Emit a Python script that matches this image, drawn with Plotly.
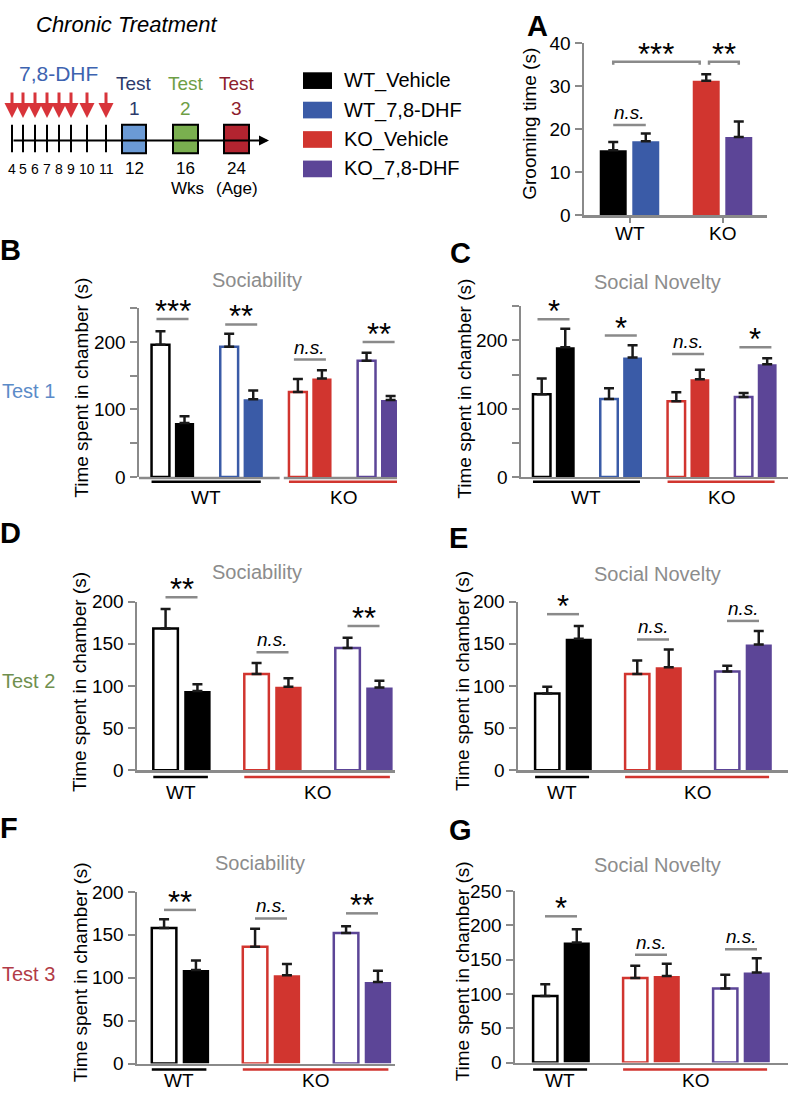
import plotly.graph_objects as go

W, H = 789, 1103
FONT = "Liberation Sans, Arial, Helvetica, sans-serif"

# ---------------- data ----------------
legend_labels = ["WT_Vehicle", "WT_7,8-DHF", "KO_Vehicle", "KO_7,8-DHF"]

groom_genotypes = ["WT", "KO"]
groom_mean = [15.1, 17.2, 31.3, 18.2]
groom_err = [1.9, 1.8, 1.5, 3.6]
groom_ns_y = 21.0
groom_sig = ["***", "**"]
groom_sig_y = 35.7

# Test 1 (groups: WT_Vehicle, WT_7,8-DHF, KO_Vehicle, KO_7,8-DHF)
B_open = [196, 193, 126, 172]
B_open_err = [20, 19, 19, 12]
B_fill = [80, 115, 146, 114]
B_fill_err = [10, 13, 12, 6]
B_sig = ["***", "**", "n.s.", "**"]
B_sig_y = [234, 226, 174, 200]

C_open = [121, 114, 111, 117]
C_open_err = [23, 16, 13, 6]
C_fill = [190, 175, 143, 165]
C_fill_err = [27, 18, 14, 9]
C_sig = ["*", "*", "n.s.", "*"]
C_sig_y = [231, 207, 180, 190]

# Tests 2 and 3 (groups: WT_Vehicle, KO_Vehicle, KO_7,8-DHF)
D_open = [168, 114, 145]
D_open_err = [23, 13, 12]
D_fill = [94, 99, 98]
D_fill_err = [8, 10, 8]
D_sig = ["**", "n.s.", "**"]
D_sig_y = [205, 140, 171]

E_open = [91, 114, 117]
E_open_err = [8, 16, 7]
E_fill = [156, 122, 149]
E_fill_err = [15, 21, 16]
E_sig = ["*", "n.s.", "n.s."]
E_sig_y = [185, 155, 177]

F_open = [158, 136, 152]
F_open_err = [10, 21, 8]
F_fill = [109, 103, 95]
F_fill_err = [11, 13, 13]
F_sig = ["**", "n.s.", "**"]
F_sig_y = [179, 169, 175]

G_open = [97, 123, 108]
G_open_err = [17, 18, 20]
G_fill = [175, 126, 131]
G_fill_err = [19, 18, 21]
G_sig = ["*", "n.s.", "n.s."]
G_sig_y = [213, 157, 165]

treat_weeks = ["4", "5", "6", "7", "8", "9", "10", "11"]
test_weeks = ["12", "16", "24"]
test_numbers = ["1", "2", "3"]

# ---------------- styles ----------------
COL = {"WT_Vehicle": "#000000", "WT_7,8-DHF": "#3a5ba7",
       "KO_Vehicle": "#d1352f", "KO_7,8-DHF": "#5c4597"}
GRAY = "#8a8a8a"
OFF = 0.175
STAR_SIZE = 31

def P(x, y):
    return x / W, 1 - y / H

def xrange_of(left, right, c0, sp):
    return [(left - c0) / sp, (right - c0) / sp]

PANELS = {
    "A": dict(idx=1, box=(584, 767, 34, 209), c0=629.5, sp=93, w=0.29, yr=[0, 40],
              tv=[0, 10, 20, 30, 40], tt=["0", "10", "20", "30", "40"]),
    "B": dict(idx=2, box=(139, 397, 304, 476), c0=172.5, sp=68.7, w=0.28, yr=[0, 250],
              tv=[0, 50, 100, 150, 200, 250], tt=["0", "", "100", "", "200", ""]),
    "C": dict(idx=3, box=(521, 788, 302, 476), c0=553.5, sp=67.3, w=0.28, yr=[0, 250],
              tv=[0, 50, 100, 150, 200, 250], tt=["0", "", "100", "", "200", ""]),
    "D": dict(idx=4, box=(137, 395, 603, 775), c0=181.5, sp=91, w=0.29, yr=[0, 200],
              tv=[0, 50, 100, 150, 200], tt=["0", "50", "100", "150", "200"]),
    "E": dict(idx=5, box=(518, 788, 603, 775), c0=563, sp=90, w=0.29, yr=[0, 200],
              tv=[0, 50, 100, 150, 200], tt=["0", "50", "100", "150", "200"]),
    "F": dict(idx=6, box=(137, 395, 899, 1074), c0=180, sp=91, w=0.29, yr=[0, 200],
              tv=[0, 50, 100, 150, 200], tt=["0", "50", "100", "150", "200"]),
    "G": dict(idx=7, box=(515, 788, 898, 1073), c0=561, sp=90, w=0.29, yr=[0, 250],
              tv=[0, 50, 100, 150, 200, 250], tt=["0", "50", "100", "150", "200", "250"]),
}

fig = go.Figure()
shapes = []
annots = []

def errs(vals):
    return dict(type="data", array=vals, arrayminus=[0] * len(vals), symmetric=False,
                color="#1a1a1a", thickness=2.5, width=5)

def ax_names(idx):
    s = "" if idx == 1 else str(idx)
    return "x" + s, "y" + s, "xaxis" + s, "yaxis" + s

def yval_to_paper(p, v):
    l, r, t, b = p["box"]
    d0, d1 = 1 - b / H, 1 - t / H
    r0, r1 = p["yr"]
    return d0 + (v - r0) / (r1 - r0) * (d1 - d0)

layout_axes = {}
for key, p in PANELS.items():
    xa, ya, xk, yk = ax_names(p["idx"])
    l, r, t, b = p["box"]
    layout_axes[xk] = dict(domain=[l / W, r / W], range=xrange_of(l, r, p["c0"], p["sp"]),
                           showline=True, linecolor=GRAY, linewidth=2.5, showgrid=False,
                           zeroline=False, showticklabels=False, ticks="", anchor=ya,
                           fixedrange=True)
    layout_axes[yk] = dict(domain=[1 - b / H, 1 - t / H], range=p["yr"], tickvals=p["tv"],
                           ticktext=p["tt"], ticks="outside", ticklen=7, tickwidth=2,
                           tickcolor=GRAY, showline=True, linecolor=GRAY, linewidth=2.5,
                           showgrid=False, zeroline=False, anchor=xa, fixedrange=True,
                           tickfont=dict(size=19, color="black", family=FONT))

def sig_mark(xa, p, xc, yv, s, x0, x1, drop=0.0):
    yp = yval_to_paper(p, yv)
    if drop:
        yd = yval_to_paper(p, yv - drop)
        shapes.append(dict(type="path", xref=xa, yref="paper",
                           path=f"M {x0},{yd} L {x0},{yp} L {x1},{yp} L {x1},{yd}",
                           line=dict(color=GRAY, width=2.5)))
    else:
        shapes.append(dict(type="line", xref=xa, yref="paper", x0=x0, x1=x1, y0=yp, y1=yp,
                           line=dict(color=GRAY, width=2.5)))
    if s == "n.s.":
        annots.append(dict(xref=xa, yref="paper", x=xc, y=yp, text="<i>n.s.</i>", showarrow=False,
                           yanchor="bottom", font=dict(size=19, color="black", family=FONT)))
    else:
        annots.append(dict(xref=xa, yref="paper", x=xc, y=yp, text=s, showarrow=False,
                           yanchor="bottom", yshift=-12,
                           font=dict(size=STAR_SIZE, color="black", family=FONT)))

# ---------------- panel A ----------------
pA = PANELS["A"]
xsA = [g + s * OFF for g in range(len(groom_genotypes)) for s in (-1, 1)]
fig.add_trace(go.Bar(x=xsA, y=groom_mean, width=pA["w"],
                     marker=dict(color=[COL[k] for k in legend_labels], line=dict(width=0)),
                     error_y=errs(groom_err), xaxis="x", yaxis="y", showlegend=False))
layout_axes["xaxis"].update(tickvals=list(range(len(groom_genotypes))),
                            ticks="outside", ticklen=5, tickwidth=2, tickcolor=GRAY,
                            showticklabels=False)
for gi, g in enumerate(groom_genotypes):
    annots.append(dict(xref="x", yref="paper", x=gi, y=P(0, 228)[1], text=g, showarrow=False,
                       yanchor="middle", font=dict(size=19, color="black", family=FONT)))
sig_mark("x", pA, 0, groom_ns_y, "n.s.", -OFF, OFF)
br = [(-OFF, 1 - OFF - 0.07), (1 - OFF + 0.03, 1 + OFF)]
for (x0, x1), s in zip(br, groom_sig):
    sig_mark("x", pA, (x0 + x1) / 2, groom_sig_y, s, x0, x1, drop=0.7)

# ---------------- panels B-G ----------------
row_label_y = {"B": 497, "C": 497, "D": 798, "E": 798, "F": 1091, "G": 1091}
underline_y = {"B": 481, "C": 481, "D": 782, "E": 782, "F": 1080, "G": 1080}

four = [COL[k] for k in legend_labels]
three = [COL["WT_Vehicle"], COL["KO_Vehicle"], COL["KO_7,8-DHF"]]
g4 = [(0, 1, "WT", "#000000"), (2, 3, "KO", COL["KO_Vehicle"])]
g3 = [(0, 0, "WT", "#000000"), (1, 2, "KO", COL["KO_Vehicle"])]

panel_data = {
    "B": (B_open, B_open_err, B_fill, B_fill_err, B_sig, B_sig_y, four, g4),
    "C": (C_open, C_open_err, C_fill, C_fill_err, C_sig, C_sig_y, four, g4),
    "D": (D_open, D_open_err, D_fill, D_fill_err, D_sig, D_sig_y, three, g3),
    "E": (E_open, E_open_err, E_fill, E_fill_err, E_sig, E_sig_y, three, g3),
    "F": (F_open, F_open_err, F_fill, F_fill_err, F_sig, F_sig_y, three, g3),
    "G": (G_open, G_open_err, G_fill, G_fill_err, G_sig, G_sig_y, three, g3),
}

for key, (ov, oe, fv, fe, sig, sig_y, cols, groups) in panel_data.items():
    p = PANELS[key]
    xa, ya, xk, _ = ax_names(p["idx"])
    n = len(ov)
    fig.add_trace(go.Bar(x=[i - OFF for i in range(n)], y=ov, width=p["w"] - 0.02,
                         marker=dict(color="white", line=dict(color=cols, width=2.5)),
                         error_y=errs(oe), xaxis=xa, yaxis=ya, showlegend=False))
    fig.add_trace(go.Bar(x=[i + OFF for i in range(n)], y=fv, width=p["w"],
                         marker=dict(color=cols, line=dict(width=0)),
                         error_y=errs(fe), xaxis=xa, yaxis=ya, showlegend=False))
    bh = 16 / p["sp"]
    for i, (s, yv) in enumerate(zip(sig, sig_y)):
        sig_mark(xa, p, i, yv, s, i - bh, i + bh)
    half = OFF + p["w"] / 2
    for g0, g1, lab, c in groups:
        x0, x1 = g0 - half + 0.01, g1 + half - 0.03
        yy = P(0, underline_y[key])[1]
        shapes.append(dict(type="line", xref=xa, yref="paper", x0=x0, x1=x1, y0=yy, y1=yy,
                           line=dict(color=c, width=2.5)))
        annots.append(dict(xref=xa, yref="paper", x=(x0 + x1) / 2, y=P(0, row_label_y[key])[1],
                           text=lab, showarrow=False, yanchor="middle",
                           font=dict(size=19, color="black", family=FONT)))

# panel B: x-axis line drawn in two pieces (small break between WT and KO groups)
pB = PANELS["B"]
layout_axes["xaxis2"]["showline"] = False
xrB = layout_axes["xaxis2"]["range"]
gapB = (1.5 + 0.06, 1.5 + 0.12)
yB = P(0, pB["box"][3] + 1.2)[1]
for x0, x1 in [(xrB[0], gapB[0]), (gapB[1], xrB[1])]:
    shapes.append(dict(type="line", xref="x2", yref="paper", x0=x0, x1=x1, y0=yB, y1=yB,
                       line=dict(color=GRAY, width=2.5), layer="below"))

# ---------------- titles / labels ----------------
def ptext(text, x, y, size=19, color="black", xanchor="center", angle=0, bold=False, italic=False):
    t = text
    if bold:
        t = "<b>" + t + "</b>"
    if italic:
        t = "<i>" + t + "</i>"
    px_, py_ = P(x, y)
    annots.append(dict(xref="paper", yref="paper", x=px_, y=py_, text=t, showarrow=False,
                       xanchor=xanchor, yanchor="middle", textangle=angle,
                       font=dict(size=size, color=color, family=FONT)))

for lab, x, y in [("A", 537, 16), ("B", 10, 245), ("C", 460, 248), ("D", 10, 533),
                  ("E", 458, 538), ("F", 9, 834), ("G", 460, 836)]:
    ptext(lab, x, y, size=29, bold=True)

ptext("Grooming time (s)", 530, 116, angle=-90)
for x, y in [(82, 385), (465, 386), (80, 685), (463, 684), (80, 981), (462, 980)]:
    ptext("Time spent in chamber (s)", x, y, angle=-90)

for t, x, y in [("Sociability", 257, 275), ("Social Novelty", 657, 277),
                ("Sociability", 257, 573), ("Social Novelty", 657, 575),
                ("Sociability", 260, 870), ("Social Novelty", 657, 872)]:
    ptext(t, x, y, size=20, color="#8c8c8c")

for t, y, c in [("Test 1", 388, "#5b8bc8"), ("Test 2", 684, "#6f8f4e"), ("Test 3", 983, "#b23b47")]:
    ptext(t, 0, y, size=20, color=c, xanchor="left")

# ---------------- legend ----------------
for k, yc in zip(legend_labels, [72, 102, 132, 162]):
    x0, y0 = P(303, yc - 8.5)
    x1, y1 = P(332, yc + 8.5)
    shapes.append(dict(type="rect", xref="paper", yref="paper", x0=x0, x1=x1, y0=y0, y1=y1,
                       fillcolor=COL[k], line=dict(width=0)))
    ptext(k, 342, yc, size=20, xanchor="left")

# ---------------- timeline schematic ----------------
ptext("Chronic Treatment", 126, 15, size=22, italic=True)
ptext("7,8-DHF", 58, 65, size=21, color="#3d63b0")
tick_px = [12, 23, 35, 47, 59, 71, 87, 106]
box_px = [(122, 146), (173, 198), (224, 249)]
box_fill = ["#6b9ad5", "#7aaf4f", "#b32430"]
test_col = ["#2c3a6b", "#6e9e45", "#8d1d2c"]
line_y = 133

tx, ty = P(269, line_y)
annots.append(dict(xref="paper", yref="paper", x=tx, y=ty, ax=-257, ay=0, text="",
                   showarrow=True, arrowhead=2, arrowsize=1, arrowwidth=2, arrowcolor="black"))
for xpx, lab in zip(tick_px, treat_weeks):
    x0, y0 = P(xpx, 117)
    _, y1 = P(xpx, 145)
    shapes.append(dict(type="line", xref="paper", yref="paper", x0=x0, x1=x0, y0=y0, y1=y1,
                       line=dict(color="black", width=2)))
    ax_, ay_ = P(xpx, 110)
    annots.append(dict(xref="paper", yref="paper", x=ax_, y=ay_, ax=0, ay=-27, text="",
                       showarrow=True, arrowhead=2, arrowsize=1, arrowwidth=3,
                       arrowcolor="#d8343a"))
    ptext(lab, xpx, 162, size=14)

for (bx0, bx1), fc, tc, wk, num in zip(box_px, box_fill, test_col, test_weeks, test_numbers):
    x0, y0 = P(bx0, 146)
    x1, y1 = P(bx1, 117)
    shapes.append(dict(type="rect", xref="paper", yref="paper", x0=x0, x1=x1, y0=y0, y1=y1,
                       fillcolor=fc, line=dict(color="black", width=2)))
    cx = (bx0 + bx1) / 2
    ptext("Test", cx, 75, size=19, color=tc)
    ptext(num, cx, 100, size=19, color=tc)
    ptext(wk, cx, 162, size=17)
ptext("Wks", 187, 182, size=17)
ptext("(Age)", 237, 182, size=17)

fig.update_layout(width=W, height=H, margin=dict(l=0, r=0, t=0, b=0),
                  paper_bgcolor="white", plot_bgcolor="white", barmode="overlay",
                  showlegend=False, shapes=shapes, annotations=annots,
                  font=dict(family=FONT, color="black"), **layout_axes)

fig.write_html("out.html", config={"displayModeBar": False, "staticPlot": True},
               post_script="document.body.style.margin='0';document.body.style.padding='0';")
